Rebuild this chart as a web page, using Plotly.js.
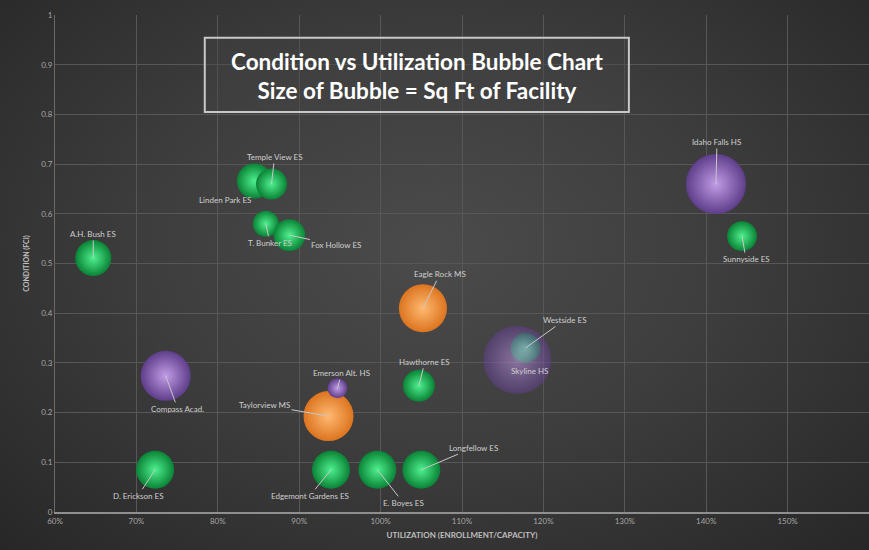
<!DOCTYPE html>
<html>
<head>
<meta charset="utf-8">
<script src="https://cdn.plot.ly/plotly-3.0.1.min.js"></script>
<style>
html,body{margin:0;padding:0;width:869px;height:550px;overflow:hidden;}
body{background:radial-gradient(ellipse at 50% 45%, #4b4b4b 0%, #3e3e3e 45%, #272727 100%);}
#chart{width:869px;height:550px;}
</style>
</head>
<body>
<div id="chart"></div>
<script>
// ---- data ----
const facilities = ["A.H. Bush ES","Compass Acad.","D. Erickson ES","Linden Park ES","Temple View ES","T. Bunker ES","Fox Hollow ES","Eagle Rock MS","Hawthorne ES","Westside ES","Skyline HS","Idaho Falls HS","Sunnyside ES","Taylorview MS","Emerson Alt. HS","Edgemont Gardens ES","E. Boyes ES","Longfellow ES"];
const utilization = [0.647,0.736,0.723,0.845,0.866,0.859,0.888,1.052,1.047,1.178,1.168,1.412,1.444,0.936,0.947,0.939,0.996,1.050];
const condition   = [0.511,0.274,0.085,0.666,0.660,0.580,0.557,0.410,0.254,0.330,0.306,0.660,0.555,0.193,0.249,0.085,0.085,0.085];
const sqFt        = [54000,104000,60000,51000,40000,28000,42000,96000,42000,37000,192000,150000,37000,104000,16500,60000,60000,60000];
const schoolType  = ["ES","HS","ES","ES","ES","ES","ES","MS","ES","ES","HS","HS","ES","MS","HS","ES","ES","ES"];

// ---- styles ----
const edgeColor   = {ES:"#0a8336", MS:"#dc741f", HS:"#5e3d8a"};
const centerColor = {ES:"#4ff08e", MS:"#ffba72", HS:"#c29ce6"};
const labelOffsets = {
  "A.H. Bush ES":[0,-24,true], "Compass Acad.":[12,33,true], "D. Erickson ES":[-17,26,true],
  "Linden Park ES":[-29,19,false], "Temple View ES":[3,-27,true], "T. Bunker ES":[4,19,true],
  "Fox Hollow ES":[47,10,true], "Eagle Rock MS":[17,-34,true], "Hawthorne ES":[6,-24,true],
  "Westside ES":[39,-28,true], "Skyline HS":[12,11,false], "Idaho Falls HS":[1,-42,true],
  "Sunnyside ES":[4,23,true], "Emerson Alt. HS":[4,-15,true], "Taylorview MS":[-64,-11,true],
  "Edgemont Gardens ES":[-21,26,true], "E. Boyes ES":[26,33,true], "Longfellow ES":[52,-22,true]
};

const refD = 38, refArea = 60000;
const sizeref = 2*refArea/(refD*refD);

const traces = facilities.map((n,i)=>({
  type:"scatter", mode:"markers", x:[utilization[i]], y:[condition[i]], name:n, showlegend:false,
  hoverinfo:"text", text:[n],
  marker:{size:[sqFt[i]], sizemode:"area", sizeref:sizeref,
    color:edgeColor[schoolType[i]], opacity:(n==="Skyline HS"?0.55:1),
    gradient:{type:"radial", color:centerColor[schoolType[i]]},
    line:{width:0}}
}));

const annotations = facilities.map((n,i)=>{
  const o = labelOffsets[n];
  return {x:utilization[i], y:condition[i], xref:"x", yref:"y", text:n,
    showarrow:true, arrowhead:0, arrowwidth:1, arrowcolor:o[2]?"#c8c8c8":"rgba(0,0,0,0)",
    ax:o[0], ay:o[1], standoff:0, font:{family:"Lato, sans-serif", size:8, color:"#cfcfcf"}};
});

annotations.push({xref:"paper", yref:"paper", x:0.445, y:0.877, xanchor:"center", yanchor:"middle",
  showarrow:false, align:"center",
  text:"<b>Condition vs Utilization Bubble Chart</b><br><b>Size of Bubble = Sq Ft of Facility</b>",
  font:{family:"Lato, sans-serif", size:22.5, color:"#ffffff"}});

const layout = {
  width:869, height:550,
  margin:{l:55, r:0, t:15, b:38},
  paper_bgcolor:"rgba(0,0,0,0)", plot_bgcolor:"rgba(0,0,0,0)",
  font:{family:"Lato, sans-serif", color:"#a6a6a6"},
  xaxis:{range:[0.6,1.6], dtick:0.1, tick0:0.6, tickformat:".0%", showgrid:true, gridcolor:"#575757", gridwidth:1,
    zeroline:false, showline:true, linecolor:"#8f8f8f", linewidth:2, ticks:"", tickfont:{size:8, color:"#a6a6a6"},
    title:{text:"<b>UTILIZATION (ENROLLMENT/CAPACITY)</b>", font:{size:8, color:"#bfbfbf"}, standoff:8}},
  yaxis:{range:[0,1], dtick:0.1, tick0:0, showgrid:true, gridcolor:"#575757", gridwidth:1,
    zeroline:false, showline:true, linecolor:"#6a6a6a", linewidth:1, ticks:"", tickfont:{size:8, color:"#a6a6a6"},
    title:{text:"<b>CONDITION (FCI)</b>", font:{size:7, color:"#bfbfbf"}, standoff:10}},
  shapes:[{type:"rect", xref:"paper", yref:"paper", x0:0.184, x1:0.705, y0:0.805, y1:0.954,
    line:{color:"#c8c8c8", width:2}, fillcolor:"rgba(70,70,70,0.35)"}],
  annotations:annotations
};

Plotly.newPlot("chart", traces, layout, {displayModeBar:false, staticPlot:true});
</script>
</body>
</html>
